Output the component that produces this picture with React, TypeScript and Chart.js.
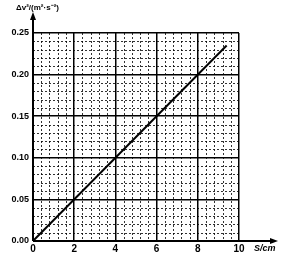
import React, { useEffect, useRef } from "react";
import { Chart, registerables } from "chart.js";

Chart.register(...registerables);

const lineX: number[] = [0, 9.4];
const lineY: number[] = [0, 0.235];
const xTickLabels: string[] = ["0", "2", "4", "6", "8", "10"];
const yTickLabels: string[] = ["0.00", "0.05", "0.10", "0.15", "0.20", "0.25"];
const xTitle = "S/cm";
const yTitle = "Δv²/(m²·s⁻²)";

const FONT = "'Liberation Sans', Arial, sans-serif";

const decorPlugin = {
  id: "decor",
  beforeDatasetsDraw(chart: any) {
    const { ctx, chartArea, scales } = chart;
    const xs = scales.x;
    const ys = scales.y;
    ctx.save();
    ctx.strokeStyle = "rgba(0,0,0,0.8)";
    ctx.lineWidth = 1;
    ctx.setLineDash([2, 2]);
    for (let i = 1; i < 25; i++) {
      if (i % 5 === 0) continue;
      const v = i * 0.4;
      const px = Math.round(xs.getPixelForValue(v)) + 0.5;
      ctx.beginPath();
      ctx.moveTo(px, chartArea.top);
      ctx.lineTo(px, chartArea.bottom);
      ctx.stroke();
    }
    for (let i = 1; i < 25; i++) {
      if (i % 5 === 0) continue;
      const v = i * 0.01;
      const py = Math.round(ys.getPixelForValue(v)) + 0.5;
      ctx.beginPath();
      ctx.moveTo(chartArea.left, py);
      ctx.lineTo(chartArea.right, py);
      ctx.stroke();
    }
    ctx.restore();
  },
  afterDraw(chart: any) {
    const { ctx, chartArea } = chart;
    const x0 = chartArea.left;
    const y0 = chartArea.bottom;
    ctx.save();
    ctx.strokeStyle = "#000";
    ctx.fillStyle = "#000";
    ctx.lineWidth = 2;
    ctx.setLineDash([]);
    // x axis
    ctx.beginPath();
    ctx.moveTo(x0, y0);
    ctx.lineTo(274, y0);
    ctx.stroke();
    ctx.beginPath();
    ctx.moveTo(278, y0);
    ctx.lineTo(270, y0 - 3);
    ctx.lineTo(270, y0 + 3);
    ctx.closePath();
    ctx.fill();
    // y axis
    ctx.beginPath();
    ctx.moveTo(x0, y0);
    ctx.lineTo(x0, 16);
    ctx.stroke();
    ctx.beginPath();
    ctx.moveTo(x0, 12);
    ctx.lineTo(x0 - 3, 20);
    ctx.lineTo(x0 + 3, 20);
    ctx.closePath();
    ctx.fill();
    // titles
    ctx.font = `italic bold 9px ${FONT}`;
    ctx.textAlign = "left";
    ctx.textBaseline = "middle";
    ctx.fillText(xTitle, 254, 249);
    ctx.font = `bold 8px ${FONT}`;
    ctx.fillText(yTitle, 16, 8);
    ctx.restore();
  },
};

export default function App() {
  const ref = useRef<HTMLCanvasElement | null>(null);
  useEffect(() => {
    if (!ref.current) return;
    const chart = new Chart(ref.current, {
      type: "line",
      data: {
        datasets: [
          {
            data: lineX.map((x, i) => ({ x, y: lineY[i] })),
            borderColor: "#000",
            borderWidth: 2,
            pointRadius: 0,
            fill: false,
          },
        ],
      },
      options: {
        animation: false,
        responsive: false,
        plugins: { legend: { display: false }, tooltip: { enabled: false } },
        layout: { padding: { left: 0, right: 49, top: 33, bottom: 0 } },
        scales: {
          x: {
            type: "linear",
            min: 0,
            max: 10,
            afterFit(scale: any) {
              scale.height = 17;
            },
            ticks: {
              stepSize: 2,
              color: "#000",
              padding: 2,
              font: { family: FONT, size: 10, weight: "bold" },
              callback: (v: any) => xTickLabels[Math.round(Number(v) / 2)] ?? "",
            },
            grid: { color: "#000", lineWidth: 1.5, drawTicks: false },
            border: { display: false },
          },
          y: {
            type: "linear",
            min: 0,
            max: 0.25,
            afterFit(scale: any) {
              scale.width = 33;
            },
            ticks: {
              stepSize: 0.05,
              color: "#000",
              padding: 4,
              font: { family: FONT, size: 9, weight: "bold" },
              callback: (v: any) => yTickLabels[Math.round(Number(v) / 0.05)] ?? "",
            },
            grid: { color: "#000", lineWidth: 1.5, drawTicks: false },
            border: { display: false },
          },
        },
      },
      plugins: [decorPlugin],
    });
    return () => chart.destroy();
  }, []);
  return (
    <div style={{ position: "fixed", left: 0, top: 0, width: 288, height: 258, background: "#fff" }}>
      <canvas ref={ref} width={288} height={258} style={{ width: 288, height: 258 }} />
    </div>
  );
}
